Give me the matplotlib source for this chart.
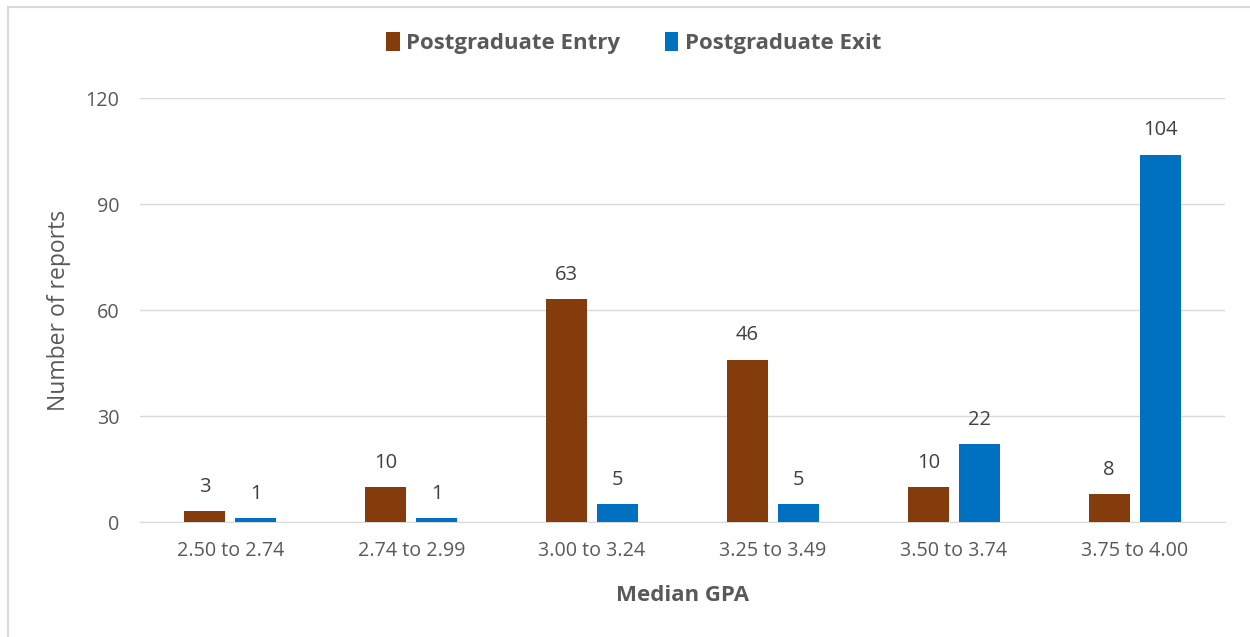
import matplotlib
matplotlib.use("Agg")
import matplotlib.pyplot as plt
import numpy as np
from matplotlib.patches import Rectangle

categories = ["2.50 to 2.74", "2.74 to 2.99", "3.00 to 3.24", "3.25 to 3.49", "3.50 to 3.74", "3.75 to 4.00"]
entry = [3, 10, 63, 46, 10, 8]
exit_ = [1, 1, 5, 5, 22, 104]
series_names = ["Postgraduate Entry", "Postgraduate Exit"]
yticks = [0, 30, 60, 90, 120]

plt.rcParams['font.family'] = ['Open Sans', 'DejaVu Sans']
txt = '#595959'
c_entry = '#843C0C'
c_exit = '#0070C0'

fig = plt.figure(figsize=(12.5, 6.37), dpi=100)
ax = fig.add_axes([0.112, 0.1805, 0.868, 0.6655])

x = np.arange(len(categories))
w = 0.227
off = 0.141
b1 = ax.bar(x - off, entry, w, color=c_entry, label=series_names[0], zorder=3)
b2 = ax.bar(x + off, exit_, w, color=c_exit, label=series_names[1], zorder=3)
for bars, vals in ((b1, entry), (b2, exit_)):
    for r, v in zip(bars, vals):
        ax.text(r.get_x() + r.get_width() / 2, v + 4, str(v), ha='center', va='bottom',
                fontsize=14.5, color='#404040')

ax.set_xlim(-0.5, len(categories) - 0.5)
ax.set_ylim(0, 120)
ax.set_yticks(yticks)
ax.set_xticks(x)
ax.set_xticklabels(categories)
ax.yaxis.grid(True, color='#D9D9D9', linewidth=1, zorder=0)
for s in ['top', 'right', 'left']:
    ax.spines[s].set_visible(False)
ax.spines['bottom'].set_color('#D9D9D9')
ax.tick_params(axis='both', length=0, labelsize=14.2, labelcolor=txt, pad=14)
ax.tick_params(axis='y', pad=15)
ax.set_ylabel("Number of reports", fontsize=16.5, color=txt, labelpad=10)
ax.set_xlabel("Median GPA", fontsize=16, color=txt, fontweight='bold', labelpad=17)

leg = fig.legend(loc='center', bbox_to_anchor=(0.507, 0.932), ncol=2, frameon=False,
                 prop={'size': 16, 'weight': 'bold'}, handlelength=0.6, handleheight=0.9,
                 handletextpad=0.3, columnspacing=2.0)
for t in leg.get_texts():
    t.set_color(txt)

fig.patches.append(Rectangle((0.006, -0.02), 1.1, 1.009, transform=fig.transFigure,
                             fill=False, edgecolor='#D9D9D9', linewidth=1.5))

fig.savefig("out.png", dpi=100)
